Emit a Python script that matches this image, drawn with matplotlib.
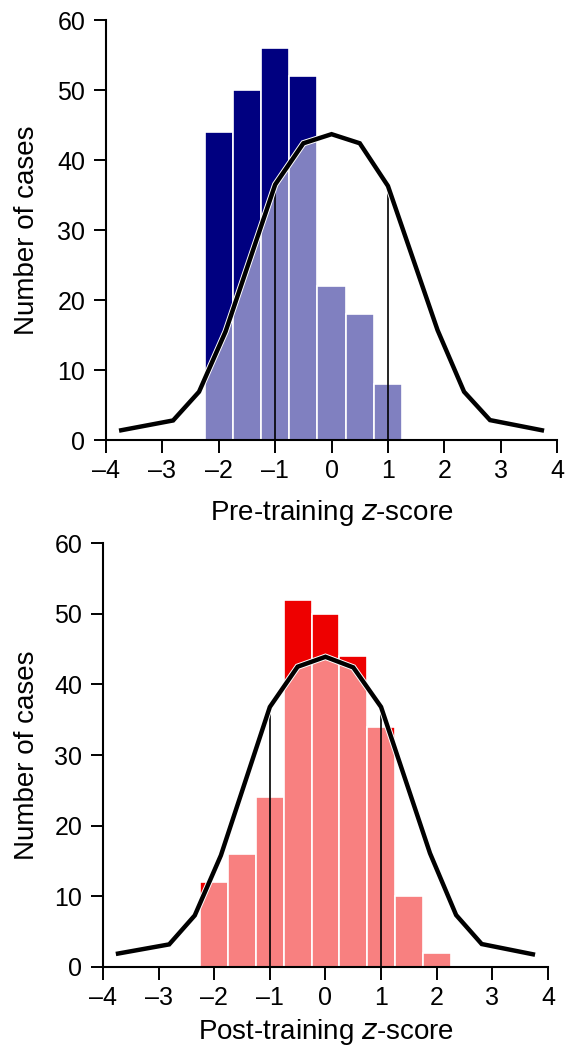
import numpy as np
import matplotlib
matplotlib.use('Agg')
import matplotlib.pyplot as plt
from matplotlib.patches import Polygon
import matplotlib.patheffects as pe

plt.rcParams['font.family'] = ['Liberation Sans', 'DejaVu Sans']

# histogram bins (centres, width 0.5)
pre_centres = [-2.0, -1.5, -1.0, -0.5, 0.0, 0.5, 1.0]
pre_counts = [44, 50, 56, 52, 22, 18, 8]
post_centres = [-2.0, -1.5, -1.0, -0.5, 0.0, 0.5, 1.0, 1.5, 2.0]
post_counts = [12, 16, 24, 52, 50, 44, 34, 10, 2]

# fitted normal curve vertices
curve_x = [-3.73, -2.81, -2.35, -1.88, -1.0, -0.5, 0.0, 0.5, 1.0, 1.88, 2.35, 2.81, 3.73]
pre_curve = [1.4, 2.8, 6.9, 15.5, 36.5, 42.4, 43.7, 42.4, 36.3, 15.7, 6.9, 2.85, 1.4]
post_curve = [1.9, 3.2, 7.3, 15.8, 36.8, 42.5, 43.9, 42.4, 36.8, 16.1, 7.35, 3.25, 1.8]

fig = plt.figure(figsize=(5.66, 10.52), dpi=100)
ax1 = fig.add_axes([0.1873, 0.5817, 0.797, 0.3992])
ax2 = fig.add_axes([0.1820, 0.0808, 0.786, 0.4030])


def panel(ax, centres, counts, cx, cy, dark, light, xlabel, ylab_x, xlab_y):
    ax.bar(centres, counts, width=0.5, color=dark, edgecolor='white',
           linewidth=1.2, zorder=1)
    lbars = ax.bar(centres, counts, width=0.5, color=light, edgecolor='white',
                   linewidth=1.2, zorder=1.5)
    # light part = area under the curve
    verts = list(zip(cx, cy)) + [(cx[-1], -5), (cx[0], -5)]
    clip = Polygon(verts, closed=True, transform=ax.transData)
    for p in lbars:
        p.set_clip_path(clip)
    for xv in (-1, 1):
        ax.plot([xv, xv], [0, np.interp(xv, cx, cy)], color='black',
                lw=1.2, zorder=4)
    ax.plot(cx, cy, color='black', lw=3.2, zorder=5, solid_joinstyle='miter',
            path_effects=[pe.Stroke(linewidth=4.6, foreground='white'), pe.Normal()])
    ax.set_xlim(-4, 4)
    ax.set_ylim(0, 60)
    ax.set_xticks(range(-4, 5))
    ax.set_xticklabels([str(v).replace('-', '\u2013') for v in range(-4, 5)])
    ax.set_yticks(range(0, 61, 10))
    for s in ['top', 'right']:
        ax.spines[s].set_visible(False)
    for s in ['left', 'bottom']:
        ax.spines[s].set_linewidth(1.5)
        ax.spines[s].set_zorder(6)
    ax.tick_params(direction='out', length=9, width=1.4, labelsize=18)
    ax.tick_params(axis='y', pad=6)
    ax.tick_params(axis='x', pad=5)
    ax.set_ylabel('Number of cases', fontsize=20)
    ax.set_xlabel(xlabel, fontsize=20)
    ax.yaxis.set_label_coords(ylab_x, 0.5)
    ax.xaxis.set_label_coords(0.5, xlab_y)
    for lab in ax.get_xticklabels():
        lab.set_clip_on(False)


panel(ax1, pre_centres, pre_counts, curve_x, pre_curve, '#000080', '#8080C0',
      'Pre-training $\\mathit{z}$-score', -0.147, -0.138)
panel(ax2, post_centres, post_counts, curve_x, post_curve, '#EE0000', '#F88080',
      'Post-training $\\mathit{z}$-score', -0.142, -0.118)

fig.savefig('out.png', dpi=100)
